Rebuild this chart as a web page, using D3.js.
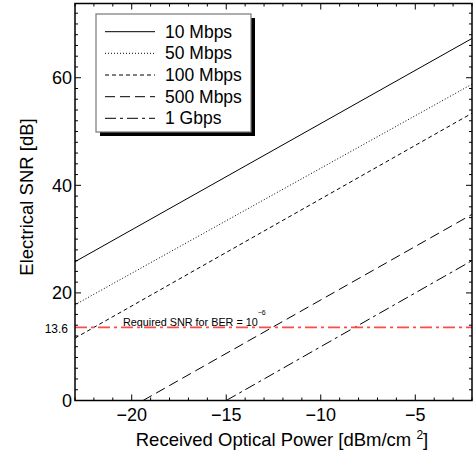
<!DOCTYPE html>
<html><head><meta charset="utf-8">
<script src="https://cdn.jsdelivr.net/npm/d3@7"></script>
<style>body{margin:0;background:#fff}svg{display:block;font-family:"Liberation Sans",Arial,sans-serif}</style>
</head><body><svg id="c" width="473" height="458"></svg>
<script>
// Data (straight lines, endpoints)
const seriesNames = ["10 Mbps", "50 Mbps", "100 Mbps", "500 Mbps", "1 Gbps"];
const s10M   = [[-23, 25.8], [-2, 67.3]];
const s50M   = [[-23, 17.8], [-2, 58.8]];
const s100M  = [[-23, 11.6], [-2, 53.4]];
const s500M  = [[-19.4, 0], [-2, 34.6]];
const s1G    = [[-15, 0], [-2, 26.0]];
const requiredSNR = 13.6;
const xTicks = [-20, -15, -10, -5];
const yTicks = [0, 20, 40, 60];

const seriesData = [s10M, s50M, s100M, s500M, s1G];
const dashes = [null, "1,2", "4,3", "10,5", "11,4,3,4"];

const svg = d3.select("#c");
const L = 75, R = 472, T = 3.5, B = 400.5;
const x = d3.scaleLinear().domain([-23, -2]).range([L, R]);
const y = d3.scaleLinear().domain([0, 73.8]).range([B, T]);

svg.append("clipPath").attr("id", "pc").append("rect")
  .attr("x", L).attr("y", T).attr("width", R - L).attr("height", B - T);

const line = d3.line().x(d => x(d[0])).y(d => y(d[1]));
const g = svg.append("g").attr("clip-path", "url(#pc)");
seriesData.forEach((s, i) => {
  g.append("path").attr("d", line(s)).attr("fill", "none")
    .attr("stroke", "#000").attr("stroke-width", 1)
    .attr("stroke-dasharray", dashes[i]);
});
// required SNR line
g.append("path").attr("d", line([[-23, requiredSNR], [-2, requiredSNR]]))
  .attr("fill", "none").attr("stroke", "#ff4a4a").attr("stroke-width", 1.6)
  .attr("stroke-dasharray", "12,4,3,4");

// axes with inward ticks
const fmt = d => d < 0 ? "\u2212" + Math.abs(d) : "" + d;
const xMinor = d3.range(-23, -1, 1);
const yMinor = d3.range(0, 74, 2);
const axG = svg.append("g");
function ticksX(yy, dir) {
  axG.selectAll(null).data(xMinor).enter().append("line")
    .attr("x1", d => x(d)).attr("x2", d => x(d))
    .attr("y1", yy).attr("y2", d => yy + dir * (xTicks.includes(d) ? 6 : 3))
    .attr("stroke", "#000").attr("stroke-width", 1);
}
function ticksY(xx, dir) {
  axG.selectAll(null).data(yMinor).enter().append("line")
    .attr("y1", d => y(d)).attr("y2", d => y(d))
    .attr("x1", xx).attr("x2", d => xx + dir * (d % 20 === 0 ? 6 : 3))
    .attr("stroke", "#000").attr("stroke-width", 1);
}
ticksX(B, -1); ticksX(T, 1); ticksY(L, 1); ticksY(R, -1);
axG.append("rect").attr("x", L).attr("y", T).attr("width", R - L).attr("height", B - T)
  .attr("fill", "none").attr("stroke", "#000").attr("stroke-width", 1.5);

axG.selectAll(null).data(xTicks).enter().append("text")
  .attr("x", d => x(d)).attr("y", B + 20).attr("text-anchor", "middle")
  .attr("font-size", 18).text(fmt);
axG.selectAll(null).data(yTicks).enter().append("text")
  .attr("x", L - 3).attr("y", d => y(d) + 6.5).attr("text-anchor", "end")
  .attr("font-size", 18).text(fmt);
axG.append("text").attr("x", 68).attr("y", y(requiredSNR) + 6)
  .attr("text-anchor", "end").attr("font-size", 12).text("13.6");

// axis titles
const xt = axG.append("text").attr("x", 282).attr("y", 446).attr("text-anchor", "middle")
  .attr("font-size", 18.5);
xt.append("tspan").text("Received Optical Power [dBm/cm ");
xt.append("tspan").attr("font-size", 12).attr("dy", -7).text("2");
xt.append("tspan").attr("dy", 7).text("]");
axG.append("text").attr("transform", "translate(33,197) rotate(-90)")
  .attr("text-anchor", "middle").attr("font-size", 18.5).text("Electrical SNR [dB]");

// annotation
const ann = axG.append("text").attr("x", 123).attr("y", y(requiredSNR) - 1.5).attr("font-size", 10.8);
ann.append("tspan").text("Required SNR for BER = 10");
ann.append("tspan").attr("font-size", 7).attr("dy", -11).text("\u22126");

// legend
const lg = svg.append("g");
lg.append("rect").attr("x", 100).attr("y", 18).attr("width", 155).attr("height", 118).attr("fill", "#000");
lg.append("rect").attr("x", 96).attr("y", 14).attr("width", 155).attr("height", 118)
  .attr("fill", "#fff").attr("stroke", "#777").attr("stroke-width", 1.2);
const rowY = [31.7, 53.3, 75, 96.7, 118.3];
seriesNames.forEach((n, i) => {
  lg.append("line").attr("x1", 105).attr("x2", 155).attr("y1", rowY[i]).attr("y2", rowY[i])
    .attr("stroke", "#000").attr("stroke-width", 1).attr("stroke-dasharray", dashes[i]);
  lg.append("text").attr("x", 165).attr("y", rowY[i] + 6).attr("font-size", 17.5).text(n);
});
</script></body></html>
